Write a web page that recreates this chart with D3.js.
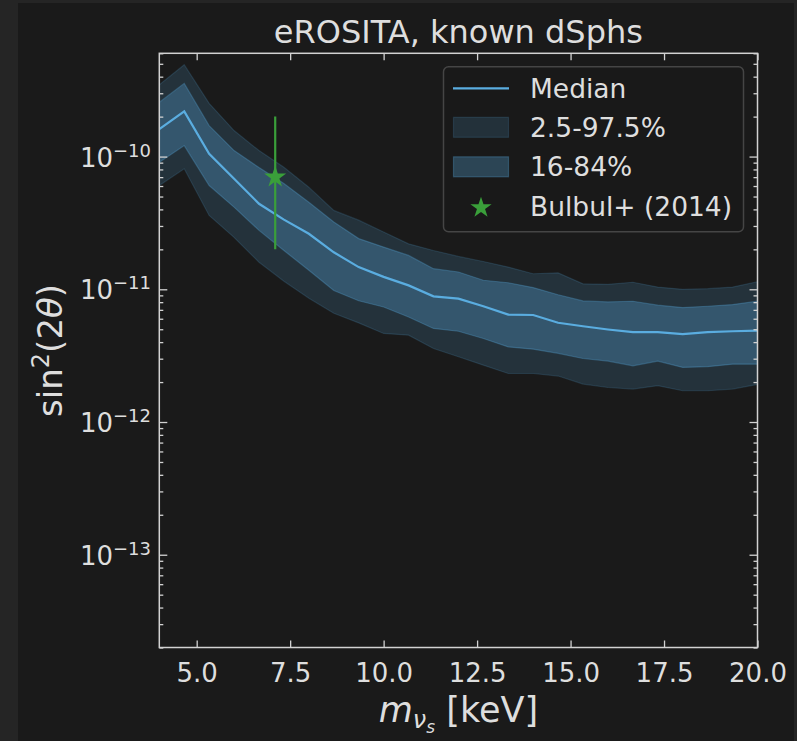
<!DOCTYPE html>
<html>
<head>
<meta charset="utf-8">
<script src="https://cdn.jsdelivr.net/npm/d3@7/dist/d3.min.js"></script>
<style>
  html, body { margin: 0; padding: 0; background: #1a1a1a; }
  svg { display: block; }
  text { font-family: "DejaVu Sans", sans-serif; fill: #dedede; }
</style>
</head>
<body>
<svg id="chart" width="797" height="741"></svg>
<script>
// ---------------- data ----------------
const massKeV = [4.0, 4.667, 5.333, 6.0, 6.667, 7.333, 8.0, 8.667, 9.333, 10.0,
  10.667, 11.333, 12.0, 12.667, 13.333, 14.0, 14.667, 15.333, 16.0, 16.667,
  17.333, 18.0, 18.667, 19.333, 20.0];
const median = [1.61e-10, 2.19e-10, 1.05e-10, 6.8e-11, 4.41e-11, 3.35e-11, 2.62e-11, 1.90e-11, 1.47e-11, 1.24e-11,
  1.07e-11, 8.85e-12, 8.5e-12, 7.45e-12, 6.45e-12, 6.4e-12, 5.6e-12, 5.27e-12, 4.98e-12, 4.75e-12,
  4.75e-12, 4.59e-12, 4.75e-12, 4.83e-12, 4.89e-12];
const p84 = [2.56e-10, 3.56e-10, 1.71e-10, 1.11e-10, 8.26e-11, 6.26e-11, 4.53e-11, 3.21e-11, 2.41e-11, 2.08e-11,
  1.80e-11, 1.43e-11, 1.35e-11, 1.17e-11, 1.12e-11, 1.03e-11, 9.1e-12, 8.17e-12, 8.03e-12, 8.13e-12,
  7.59e-12, 7.28e-12, 7.45e-12, 7.67e-12, 8.13e-12];
const p16 = [9.06e-11, 1.21e-10, 6.05e-11, 4.16e-11, 2.78e-11, 1.96e-11, 1.39e-11, 9.8e-12, 8.2e-12, 7.36e-12,
  6.19e-12, 5.07e-12, 4.83e-12, 4.26e-12, 3.68e-12, 3.54e-12, 3.29e-12, 3.01e-12, 2.88e-12, 2.65e-12,
  2.88e-12, 2.58e-12, 2.61e-12, 2.73e-12, 2.73e-12];
const p975 = [3.47e-10, 4.92e-10, 2.52e-10, 1.57e-10, 1.11e-10, 8.3e-11, 5.88e-11, 3.93e-11, 3.32e-11, 2.70e-11,
  2.20e-11, 1.96e-11, 1.77e-11, 1.62e-11, 1.47e-11, 1.31e-11, 1.33e-11, 1.10e-11, 1.09e-11, 1.13e-11,
  1.04e-11, 1.0e-11, 1.01e-11, 1.04e-11, 1.14e-11];
const p025 = [6.05e-11, 8.09e-11, 3.6e-11, 2.46e-11, 1.60e-11, 1.15e-11, 8.55e-12, 6.6e-12, 5.58e-12, 4.65e-12,
  4.51e-12, 3.58e-12, 3.10e-12, 2.68e-12, 2.32e-12, 2.32e-12, 2.22e-12, 1.93e-12, 1.82e-12, 1.77e-12,
  1.88e-12, 1.72e-12, 1.72e-12, 1.77e-12, 1.92e-12];
const bulbulMass = [7.1];
const bulbulValue = [7e-11];
const bulbulLow = [2e-11];
const bulbulHigh = [2e-10];
const xTicks = [5.0, 7.5, 10.0, 12.5, 15.0, 17.5, 20.0];
const yMajorExps = [-13, -12, -11, -10];
const legendLabels = ["Median", "2.5-97.5%", "16-84%", "Bulbul+ (2014)"];
const titleText = "eROSITA, known dSphs";

// ---------------- layout ----------------
const W = 797, H = 741;
const L = 159.3, R = 757.5, T = 53.3, B = 647.5;
const bandColor = "#5aade0";
const medColor = "#5aade0";
const green = "#3a9f3a";
const axisColor = "#d2d2d2";

const svg = d3.select("#chart");
svg.append("rect").attr("width", W).attr("height", H).attr("fill", "#1a1a1a");
svg.append("rect").attr("x", 0).attr("y", 0).attr("width", 18).attr("height", H).attr("fill", "#252525");
svg.append("rect").attr("x", 0).attr("y", 0).attr("width", W).attr("height", 3).attr("fill", "#252525");
svg.append("rect").attr("x", 794).attr("y", 0).attr("width", 3).attr("height", H).attr("fill", "#252525");

const x = d3.scaleLinear().domain([4, 20]).range([L, R]);
const y = d3.scaleLog().domain([2e-14, 6e-10]).range([B, T]);

svg.append("clipPath").attr("id", "clip")
  .append("rect").attr("x", L).attr("y", T).attr("width", R - L).attr("height", B - T);

const data = massKeV.map((m, i) => ({ m, med: median[i], lo1: p16[i], hi1: p84[i], lo2: p025[i], hi2: p975[i] }));

const plot = svg.append("g").attr("clip-path", "url(#clip)");

const areaOuter = d3.area().x(d => x(d.m)).y0(d => y(d.lo2)).y1(d => y(d.hi2));
const areaInner = d3.area().x(d => x(d.m)).y0(d => y(d.lo1)).y1(d => y(d.hi1));

plot.append("path").datum(data).attr("d", areaOuter)
  .attr("fill", bandColor).attr("fill-opacity", 0.17)
  .attr("stroke", bandColor).attr("stroke-opacity", 0.17).attr("stroke-width", 1.2);
plot.append("path").datum(data).attr("d", areaInner)
  .attr("fill", bandColor).attr("fill-opacity", 0.3)
  .attr("stroke", bandColor).attr("stroke-opacity", 0.3).attr("stroke-width", 1.2);

plot.append("path").datum(data)
  .attr("d", d3.line().x(d => x(d.m)).y(d => y(d.med)))
  .attr("fill", "none").attr("stroke", medColor).attr("stroke-width", 2.2);

// Bulbul point
const bul = bulbulMass.map((m, i) => ({ m, v: bulbulValue[i], lo: bulbulLow[i], hi: bulbulHigh[i] }));
plot.selectAll(".eb").data(bul).enter().append("line")
  .attr("x1", d => x(d.m)).attr("x2", d => x(d.m))
  .attr("y1", d => y(d.lo)).attr("y2", d => y(d.hi))
  .attr("stroke", green).attr("stroke-width", 2.2);
const star = d3.symbol().type(d3.symbolStar).size(150);
plot.selectAll(".st").data(bul).enter().append("path")
  .attr("d", star).attr("transform", d => `translate(${x(d.m)},${y(d.v)})`)
  .attr("fill", green);

// ---------------- axes ----------------
const axes = svg.append("g");
function styleAxis(g) {
  g.select(".domain").remove();
  g.selectAll(".tick line").attr("stroke", axisColor).attr("stroke-width", 1.3);
  g.selectAll(".tick text").attr("fill", "#dedede").style("font-size", "26px")
    .style("font-family", "DejaVu Sans");
}
const minorVals = [];
for (let e = -14; e <= -10; e++) for (let k = 2; k <= 9; k++) {
  const v = k * Math.pow(10, e);
  if (v >= 2e-14 && v <= 6e-10) minorVals.push(v);
}
const majorVals = yMajorExps.map(e => Math.pow(10, e));

axes.append("g").attr("transform", `translate(0,${B})`)
  .call(d3.axisBottom(x).tickValues(xTicks).tickSize(-7).tickPadding(16).tickFormat(d3.format(".1f")))
  .call(styleAxis);
axes.append("g").attr("transform", `translate(0,${T})`)
  .call(d3.axisTop(x).tickValues(xTicks).tickSize(-7).tickFormat(""))
  .call(styleAxis);
axes.append("g").attr("transform", `translate(${L},0)`)
  .call(d3.axisLeft(y).tickValues(majorVals).tickSize(-8).tickFormat(""))
  .call(styleAxis);
axes.append("g").attr("transform", `translate(${L},0)`)
  .call(d3.axisLeft(y).tickValues(minorVals).tickSize(-4).tickFormat(""))
  .call(styleAxis);
axes.append("g").attr("transform", `translate(${R},0)`)
  .call(d3.axisRight(y).tickValues(majorVals).tickSize(-8).tickFormat(""))
  .call(styleAxis);
axes.append("g").attr("transform", `translate(${R},0)`)
  .call(d3.axisRight(y).tickValues(minorVals).tickSize(-4).tickFormat(""))
  .call(styleAxis);

// y tick labels with superscripts
const ylab = axes.append("g");
yMajorExps.forEach(e => {
  const t = ylab.append("text").attr("x", 151).attr("y", y(Math.pow(10, e)) + 10)
    .attr("text-anchor", "end").style("font-size", "26px");
  t.append("tspan").text("10");
  t.append("tspan").attr("dy", -10).style("font-size", "18px").text("\u2212" + (-e));
});

// spines
svg.append("rect").attr("x", L).attr("y", T).attr("width", R - L).attr("height", B - T)
  .attr("fill", "none").attr("stroke", axisColor).attr("stroke-width", 1.5);

// ---------------- labels ----------------
svg.append("text").attr("x", (L + R) / 2).attr("y", 43).attr("text-anchor", "middle")
  .style("font-size", "32px").text(titleText);

const xl = svg.append("text").attr("x", (L + R) / 2).attr("y", 722).attr("text-anchor", "middle")
  .style("font-size", "35px");
xl.append("tspan").style("font-style", "italic").text("m");
xl.append("tspan").style("font-style", "italic").style("font-size", "24px").attr("dy", 6).text("\u03bd");
xl.append("tspan").style("font-style", "italic").style("font-size", "17px").attr("dy", 5).text("s");
xl.append("tspan").attr("dy", -11).text(" [keV]");

const yl = svg.append("text").attr("transform", `translate(62,${(T + B) / 2}) rotate(-90)`)
  .attr("text-anchor", "middle").style("font-size", "34px");
yl.append("tspan").text("sin");
yl.append("tspan").style("font-size", "24px").attr("dy", -13).text("2");
yl.append("tspan").attr("dy", 13).text("(2");
yl.append("tspan").style("font-style", "italic").text("\u03b8");
yl.append("tspan").text(")");

// ---------------- legend ----------------
const lg = svg.append("g");
lg.append("rect").attr("x", 443.5).attr("y", 66.7).attr("width", 300).attr("height", 165)
  .attr("rx", 5).attr("fill", "#1a1a1a").attr("fill-opacity", 0.85)
  .attr("stroke", "#454545").attr("stroke-width", 1.5);
const rowY = [88.3, 127.3, 166.8, 206.3];
lg.append("line").attr("x1", 453).attr("x2", 509).attr("y1", rowY[0]).attr("y2", rowY[0])
  .attr("stroke", medColor).attr("stroke-width", 2.2);
lg.append("rect").attr("x", 453.5).attr("y", rowY[1] - 10).attr("width", 55).attr("height", 20)
  .attr("fill", bandColor).attr("fill-opacity", 0.17)
  .attr("stroke", bandColor).attr("stroke-opacity", 0.17).attr("stroke-width", 1.2);
lg.append("rect").attr("x", 453.5).attr("y", rowY[2] - 10).attr("width", 55).attr("height", 20)
  .attr("fill", bandColor).attr("fill-opacity", 0.3)
  .attr("stroke", bandColor).attr("stroke-opacity", 0.3).attr("stroke-width", 1.2);
lg.append("path").attr("d", d3.symbol().type(d3.symbolStar).size(140))
  .attr("transform", `translate(481,${rowY[3] + 1.5})`).attr("fill", green);
legendLabels.forEach((s, i) => {
  lg.append("text").attr("x", 530).attr("y", rowY[i] + 9.5).style("font-size", "26.5px").text(s);
});
</script>
</body>
</html>
